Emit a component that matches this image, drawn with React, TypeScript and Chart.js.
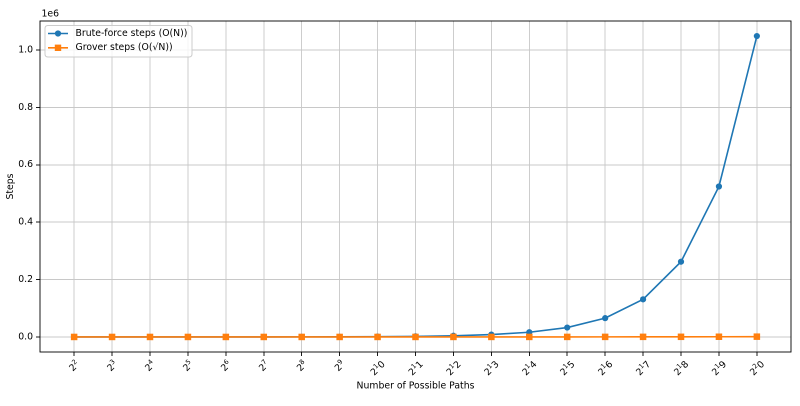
import React, { useEffect, useRef } from "react";
import { Chart, registerables } from "chart.js";

Chart.register(...registerables);

const exponents = [2, 3, 4, 5, 6, 7, 8, 9, 10, 11, 12, 13, 14, 15, 16, 17, 18, 19, 20];
// each label: base, superscript part, trailing baseline part (as rendered in the reference)
const tickBase = ["2", "2", "2", "2", "2", "2", "2", "2", "2", "2", "2", "2", "2", "2", "2", "2", "2", "2", "2"];
const tickSup = ["2", "3", "4", "5", "6", "7", "8", "9", "1", "1", "1", "1", "1", "1", "1", "1", "1", "1", "2"];
const tickTail = ["", "", "", "", "", "", "", "", "0", "1", "2", "3", "4", "5", "6", "7", "8", "9", "0"];
const bruteSteps = [
  4, 8, 16, 32, 64, 128, 256, 512, 1024, 2048, 4096, 8192, 16384, 32768,
  65536, 131072, 262144, 524288, 1048576,
];
const groverSteps = [
  2, 2.83, 4, 5.66, 8, 11.31, 16, 22.63, 32, 45.25, 64, 90.51, 128, 181.02,
  256, 362.04, 512, 724.08, 1024,
];
const yTickValues = [0, 200000, 400000, 600000, 800000, 1000000];
const seriesNames = ["Brute-force steps (O(N))", "Grover steps (O(√N))"];

const FONT = "DejaVu Sans";
const FS = 9.3;
const SUP = 6.6;
const BLUE = "#1f77b4";
const ORANGE = "#ff7f0e";

const overlay = {
  id: "overlay",
  afterDraw(chart: any) {
    const ctx = chart.ctx as CanvasRenderingContext2D;
    const ca = chart.chartArea;
    const xs = chart.scales.x;
    ctx.save();
    // frame
    ctx.strokeStyle = "#000";
    ctx.lineWidth = 0.9;
    ctx.strokeRect(ca.left, ca.top, ca.right - ca.left, ca.bottom - ca.top);

    ctx.fillStyle = "#000";
    // x tick labels, rotated 45°, centered under the tick
    const topY = ca.bottom + 6.5;
    xs.ticks.forEach((t: any) => {
      const idx = exponents.indexOf(t.value);
      if (idx < 0) return;
      const base = tickBase[idx], sup = tickSup[idx], tail = tickTail[idx];
      ctx.font = `${FS}px "${FONT}"`;
      const wb = ctx.measureText(base).width;
      const wt = ctx.measureText(tail).width;
      ctx.font = `${SUP}px "${FONT}"`;
      const ws = ctx.measureText(sup).width;
      const w = wb + ws + wt;
      const h = FS * 1.15;
      const bb = (w + h) * Math.SQRT1_2;
      const x = xs.getPixelForValue(t.value);
      const cy = topY + bb / 2;
      ctx.save();
      ctx.translate(x, cy);
      ctx.rotate(-Math.PI / 4);
      ctx.textAlign = "left";
      ctx.textBaseline = "alphabetic";
      const baseY = FS * 0.36;
      let cx = -w / 2;
      ctx.font = `${FS}px "${FONT}"`;
      ctx.fillText(base, cx, baseY);
      cx += wb;
      ctx.font = `${SUP}px "${FONT}"`;
      ctx.fillText(sup, cx, baseY - FS * 0.4);
      cx += ws;
      if (tail) {
        ctx.font = `${FS}px "${FONT}"`;
        ctx.fillText(tail, cx, baseY);
      }
      ctx.restore();
    });

    ctx.font = `${FS}px "${FONT}"`;
    // axis titles
    ctx.textAlign = "center";
    ctx.textBaseline = "middle";
    ctx.fillText("Number of Possible Paths", (ca.left + ca.right) / 2, 386);
    ctx.save();
    ctx.translate(10.5, (ca.top + ca.bottom) / 2);
    ctx.rotate(-Math.PI / 2);
    ctx.fillText("Steps", 0, 0);
    ctx.restore();

    // offset text
    ctx.textAlign = "left";
    ctx.fillText("1e6", ca.left + 1.5, 14);

    // legend
    const lx = ca.left + 5, ly = ca.top + 4.5, lw = 147, lh = 31.5, r = 3;
    ctx.beginPath();
    ctx.moveTo(lx + r, ly);
    ctx.lineTo(lx + lw - r, ly);
    ctx.quadraticCurveTo(lx + lw, ly, lx + lw, ly + r);
    ctx.lineTo(lx + lw, ly + lh - r);
    ctx.quadraticCurveTo(lx + lw, ly + lh, lx + lw - r, ly + lh);
    ctx.lineTo(lx + r, ly + lh);
    ctx.quadraticCurveTo(lx, ly + lh, lx, ly + lh - r);
    ctx.lineTo(lx, ly + r);
    ctx.quadraticCurveTo(lx, ly, lx + r, ly);
    ctx.closePath();
    ctx.fillStyle = "rgba(255,255,255,0.8)";
    ctx.fill();
    ctx.strokeStyle = "#cccccc";
    ctx.lineWidth = 1;
    ctx.stroke();

    const entries = [
      { y: 33.5, color: BLUE, shape: "circle" },
      { y: 47.8, color: ORANGE, shape: "rect" },
    ];
    entries.forEach((e, i) => {
      ctx.strokeStyle = e.color;
      ctx.lineWidth = 1.6;
      ctx.beginPath();
      ctx.moveTo(48, e.y);
      ctx.lineTo(68, e.y);
      ctx.stroke();
      ctx.fillStyle = e.color;
      if (e.shape === "circle") {
        ctx.beginPath();
        ctx.arc(58, e.y, 3.1, 0, Math.PI * 2);
        ctx.fill();
      } else {
        ctx.fillRect(58 - 3.2, e.y - 3.2, 6.4, 6.4);
      }
      ctx.fillStyle = "#000";
      ctx.textAlign = "left";
      ctx.textBaseline = "middle";
      ctx.fillText(seriesNames[i], 75.5, e.y);
    });
    ctx.restore();
  },
};

export default function App() {
  const ref = useRef<HTMLCanvasElement | null>(null);
  useEffect(() => {
    if (!ref.current) return;
    const chart = new Chart(ref.current, {
      type: "line",
      data: {
        datasets: [
          {
            label: seriesNames[0],
            data: exponents.map((e, i) => ({ x: e, y: bruteSteps[i] })),
            borderColor: BLUE,
            backgroundColor: BLUE,
            borderWidth: 1.6,
            pointStyle: "circle",
            pointRadius: 3.1,
            pointBorderWidth: 0,
            order: 1,
            tension: 0,
          },
          {
            label: seriesNames[1],
            data: exponents.map((e, i) => ({ x: e, y: groverSteps[i] })),
            borderColor: ORANGE,
            backgroundColor: ORANGE,
            borderWidth: 1.6,
            pointStyle: "rect",
            pointRadius: 4.6,
            pointBorderWidth: 0,
            order: 0,
            tension: 0,
          },
        ],
      },
      options: {
        animation: false,
        responsive: true,
        maintainAspectRatio: false,
        devicePixelRatio: 2,
        layout: { padding: { left: 0, right: 9, top: 21, bottom: 0 } },
        plugins: { legend: { display: false }, tooltip: { enabled: false } },
        scales: {
          x: {
            type: "linear",
            min: 1.1,
            max: 20.9,
            afterBuildTicks: (s: any) => {
              s.ticks = exponents.map((v) => ({ value: v }));
            },
            afterFit: (s: any) => {
              s.height = 54;
            },
            ticks: { display: false },
            grid: {
              color: "#c8c8c8",
              lineWidth: 0.9,
              drawTicks: true,
              tickLength: 4,
              tickColor: "#000",
            },
            border: { display: false },
          },
          y: {
            type: "linear",
            min: -52427,
            max: 1101005,
            afterBuildTicks: (s: any) => {
              s.ticks = yTickValues.map((v) => ({ value: v }));
            },
            afterFit: (s: any) => {
              s.width = 40;
            },
            ticks: {
              color: "#000",
              font: { family: FONT, size: FS },
              padding: 3,
              callback: (v: any) => (Number(v) / 1e6).toFixed(1),
            },
            grid: {
              color: "#c8c8c8",
              lineWidth: 0.9,
              drawTicks: true,
              tickLength: 4,
              tickColor: "#000",
            },
            border: { display: false },
          },
        },
      },
      plugins: [overlay],
    });
    return () => chart.destroy();
  }, []);
  return (
    <div style={{ position: "fixed", left: 0, top: 0, width: 800, height: 406, background: "#fff" }}>
      <canvas ref={ref} />
    </div>
  );
}
